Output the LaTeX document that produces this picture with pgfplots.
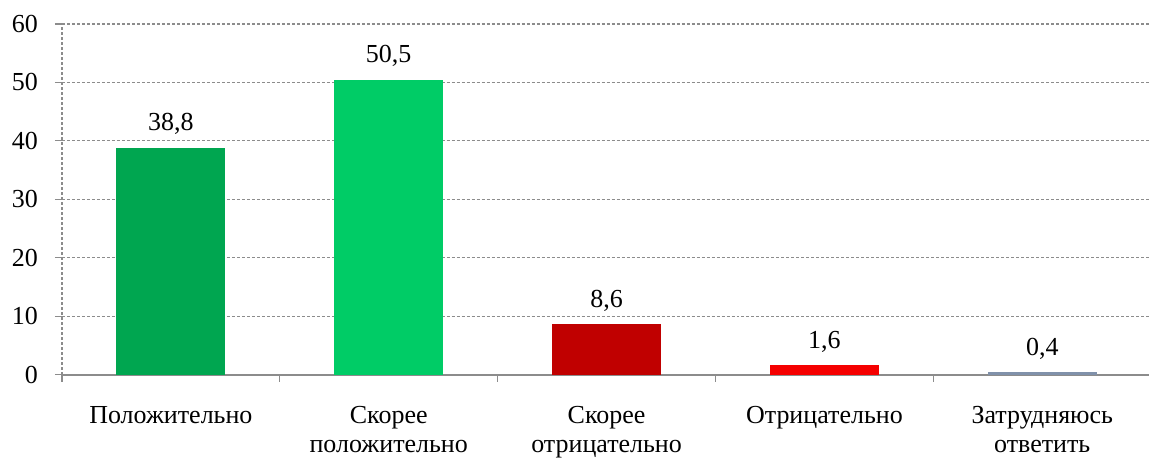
\documentclass[border=0pt]{standalone}
\usepackage{fontspec}
\setmainfont{Liberation Serif}
\usepackage{pgfplots}
\pgfplotsset{compat=1.18}

\definecolor{cPos}{RGB}{0,166,80}
\definecolor{cRatherPos}{RGB}{0,204,102}
\definecolor{cRatherNeg}{RGB}{192,0,0}
\definecolor{cNeg}{RGB}{245,0,0}
\definecolor{cHard}{RGB}{128,145,170}
\definecolor{gridgray}{RGB}{140,140,140}

\begin{document}
\begin{tikzpicture}
  \begin{axis}[
      scale only axis,
      width=543.9pt,
      height=175.5pt,
      xmin=-0.5, xmax=4.49,
      ymin=0, ymax=60,
      ytick={0,10,...,60},
      xtick={-0.5,0.5,1.5,2.5,3.5},
      xticklabels={Положительно, Скорее\\положительно, Скорее\\отрицательно,
                   Отрицательно, Затрудняюсь\\ответить},
      axis lines*=left,
      x axis line style={draw=gridgray, line width=0.8pt},
      y axis line style={draw=gridgray, line width=0.6pt, dash pattern=on 1.5pt off 1pt},
      tick align=outside,
      major tick length=3.5pt,
      tick style={draw=gridgray, line width=0.6pt},
      ymajorgrids,
      major grid style={draw=gridgray, line width=0.6pt, dash pattern=on 1.5pt off 1pt},
      /pgf/number format/assume math mode=true,
      tick label style={font=\fontsize{13}{14}\selectfont},
      x tick label style={font=\fontsize{13}{14.5}\selectfont, xshift=54.5pt, align=center, yshift=-9pt},
      y tick label style={xshift=-5pt},
      ybar,
      bar width=0.5,
      bar shift=0pt,
      nodes near coords,
      nodes near coords style={font=\fontsize{13}{14}\selectfont, anchor=base, yshift=8.5pt,
        /pgf/number format/.cd, fixed, fixed zerofill, precision=1, use comma, assume math mode=true},
      every axis plot/.append style={draw=none},
      clip=false,
    ]
    \addplot[fill=cPos] coordinates {(0,38.8)};
    \addplot[fill=cRatherPos] coordinates {(1,50.5)};
    \addplot[fill=cRatherNeg] coordinates {(2,8.6)};
    \addplot[fill=cNeg] coordinates {(3,1.6)};
    \addplot[fill=cHard] coordinates {(4,0.4)};
  \end{axis}
  \pgfresetboundingbox
  \path ([xshift=-31pt,yshift=12pt]current axis.north west) rectangle ([yshift=-41.5pt]current axis.south east);
\end{tikzpicture}
\end{document}
